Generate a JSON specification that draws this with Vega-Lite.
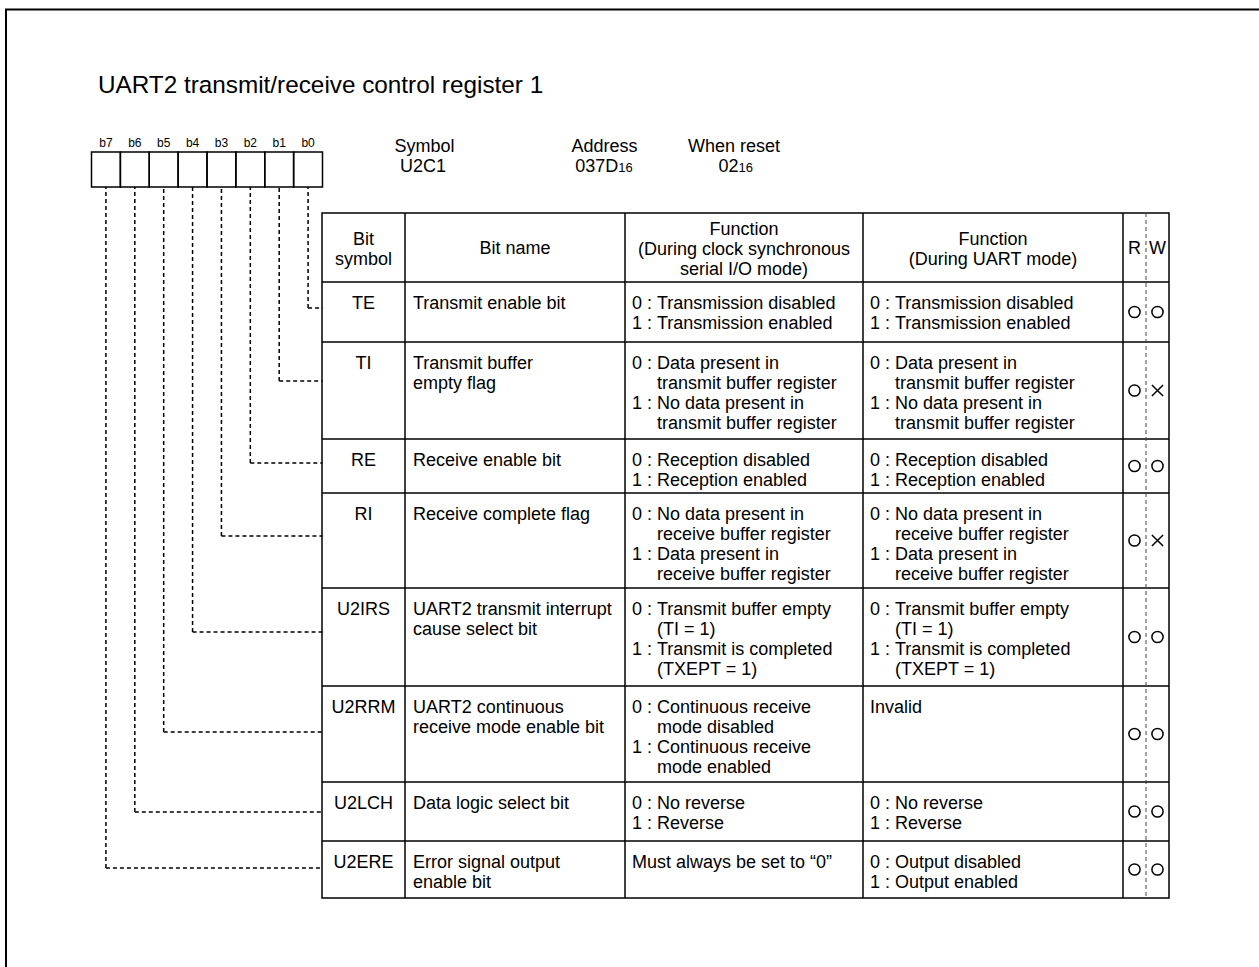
{
  "$schema": "https://vega.github.io/schema/vega-lite/v6.json",
  "width": 1259,
  "height": 967,
  "autosize": {"type": "none"},
  "padding": 0,
  "background": "white",
  "title": {
    "text": "UART2 transmit/receive control register 1",
    "anchor": "start",
    "orient": "top",
    "frame": "group",
    "offset": 0,
    "dx": 98,
    "dy": 117,
    "baseline": "alphabetic",
    "font": "Liberation Sans",
    "fontSize": 24.3,
    "fontWeight": "normal",
    "color": "black"
  },
  "config": {
    "view": {"stroke": null},
    "text": {"font": "Liberation Sans", "fontSize": 18, "color": "black", "lineBreak": "\n", "lineHeight": 20}
  },
  "datasets": {
    "bits": [
      {"bit": 0, "bitName": "b0", "sym": "TE", "name": "Transmit enable bit", "r": "○", "w": "○"},
      {"bit": 1, "bitName": "b1", "sym": "TI", "name": "Transmit buffer\nempty flag", "r": "○", "w": "×"},
      {"bit": 2, "bitName": "b2", "sym": "RE", "name": "Receive enable bit", "r": "○", "w": "○"},
      {"bit": 3, "bitName": "b3", "sym": "RI", "name": "Receive complete flag", "r": "○", "w": "×"},
      {"bit": 4, "bitName": "b4", "sym": "U2IRS", "name": "UART2 transmit interrupt\ncause select bit", "r": "○", "w": "○"},
      {"bit": 5, "bitName": "b5", "sym": "U2RRM", "name": "UART2 continuous\nreceive mode enable bit", "r": "○", "w": "○"},
      {"bit": 6, "bitName": "b6", "sym": "U2LCH", "name": "Data logic select bit", "r": "○", "w": "○"},
      {"bit": 7, "bitName": "b7", "sym": "U2ERE", "name": "Error signal output\nenable bit", "r": "○", "w": "○"}
    ],
    "cells": [
      {"bit": 0, "col": 2, "key": "0 :\n1 :", "body": "Transmission disabled\nTransmission enabled", "n": 2},
      {"bit": 0, "col": 3, "key": "0 :\n1 :", "body": "Transmission disabled\nTransmission enabled", "n": 2},
      {"bit": 1, "col": 2, "key": "0 :\n1 :", "body": "Data present in\ntransmit buffer register\nNo data present in\ntransmit buffer register", "n": 4},
      {"bit": 1, "col": 3, "key": "0 :\n1 :", "body": "Data present in\ntransmit buffer register\nNo data present in\ntransmit buffer register", "n": 4},
      {"bit": 2, "col": 2, "key": "0 :\n1 :", "body": "Reception disabled\nReception enabled", "n": 2},
      {"bit": 2, "col": 3, "key": "0 :\n1 :", "body": "Reception disabled\nReception enabled", "n": 2},
      {"bit": 3, "col": 2, "key": "0 :\n1 :", "body": "No data present in\nreceive buffer register\nData present in\nreceive buffer register", "n": 4},
      {"bit": 3, "col": 3, "key": "0 :\n1 :", "body": "No data present in\nreceive buffer register\nData present in\nreceive buffer register", "n": 4},
      {"bit": 4, "col": 2, "key": "0 :\n1 :", "body": "Transmit buffer empty\n(TI = 1)\nTransmit is completed\n(TXEPT = 1)", "n": 4},
      {"bit": 4, "col": 3, "key": "0 :\n1 :", "body": "Transmit buffer empty\n(TI = 1)\nTransmit is completed\n(TXEPT = 1)", "n": 4},
      {"bit": 5, "col": 2, "key": "0 :\n1 :", "body": "Continuous receive\nmode disabled\nContinuous receive\nmode enabled", "n": 4},
      {"bit": 5, "col": 3, "key": "", "body": "Invalid", "n": 1},
      {"bit": 6, "col": 2, "key": "0 :\n1 :", "body": "No reverse\nReverse", "n": 2},
      {"bit": 6, "col": 3, "key": "0 :\n1 :", "body": "No reverse\nReverse", "n": 2},
      {"bit": 7, "col": 2, "key": "", "body": "Must always be set to “0”", "n": 1},
      {"bit": 7, "col": 3, "key": "0 :\n1 :", "body": "Output disabled\nOutput enabled", "n": 2}
    ],
    "cols": [
      {"col": 0, "head": "Bit\nsymbol", "n": 2},
      {"col": 1, "head": "Bit name", "n": 1},
      {"col": 2, "head": "Function\n(During clock synchronous\nserial I/O mode)", "n": 3},
      {"col": 3, "head": "Function\n(During UART mode)", "n": 2},
      {"col": 4, "head": "R", "n": 1},
      {"col": 5, "head": "W", "n": 1}
    ],
    "info": [
      {"k": 0, "label": "Symbol", "value": "U2C1", "sub": ""},
      {"k": 1, "label": "Address", "value": "037D", "sub": "16"},
      {"k": 2, "label": "When reset", "value": "02", "sub": "16"}
    ],
    "one": [{"item": "frame"}]
  },
  "layer": [
    {
      "data": {"name": "one"},
      "mark": {"type": "rect", "filled": false, "stroke": "black", "strokeWidth": 2},
      "encoding": {
        "x": {"datum": 0, "type": "quantitative", "scale": {"domain": [0, 1], "range": [6, 1400], "nice": false, "zero": false}, "axis": null},
        "x2": {"datum": 1},
        "y": {"datum": 0, "type": "quantitative", "scale": {"domain": [0, 1], "range": [9.5, 1100], "nice": false, "zero": false}, "axis": null},
        "y2": {"datum": 1}
      }
    },
    {
      "data": {"name": "bits"},
      "mark": {"type": "rule", "strokeDash": [4, 3], "strokeWidth": 1.5, "color": "black"},
      "encoding": {
        "x": {"field": "bit", "type": "quantitative", "scale": {"domain": [-0.5, 7.5], "range": [322.5, 91.5], "nice": false, "zero": false}, "axis": null},
        "y": {"field": "bit", "type": "quantitative", "scale": {"domain": [-3, -2, -1, 0, 1, 2, 3, 4, 5, 6, 7], "range": [143, 152, 187, 308, 381, 463, 536, 632, 732, 812, 868], "nice": false, "zero": false}, "axis": null},
        "y2": {"datum": -1}
      }
    },
    {
      "data": {"name": "bits"},
      "mark": {"type": "rule", "strokeDash": [4, 3], "strokeWidth": 1.5, "color": "black"},
      "encoding": {
        "x": {"field": "bit", "type": "quantitative", "scale": {"domain": [-0.5, 7.5], "range": [322.5, 91.5], "nice": false, "zero": false}, "axis": null},
        "x2": {"datum": -0.5},
        "y": {"field": "bit", "type": "quantitative", "scale": {"domain": [-3, -2, -1, 0, 1, 2, 3, 4, 5, 6, 7], "range": [143, 152, 187, 308, 381, 463, 536, 632, 732, 812, 868], "nice": false, "zero": false}, "axis": null}
      }
    },
    {
      "data": {"name": "bits"},
      "mark": {"type": "point", "shape": "M-0.825,-1L0.825,-1L0.825,1L-0.825,1Z", "size": 1225, "filled": false, "stroke": "black", "strokeWidth": 1.5, "opacity": 1},
      "encoding": {
        "x": {"field": "bit", "type": "quantitative", "scale": {"domain": [-0.5, 7.5], "range": [322.5, 91.5], "nice": false, "zero": false}, "axis": null},
        "y": {"datum": -1.5, "type": "quantitative", "scale": {"domain": [-3, -2, -1, 0, 1, 2, 3, 4, 5, 6, 7], "range": [143, 152, 187, 308, 381, 463, 536, 632, 732, 812, 868], "nice": false, "zero": false}, "axis": null}
      }
    },
    {
      "data": {"name": "bits"},
      "mark": {"type": "text", "fontSize": 12, "align": "center", "baseline": "middle"},
      "encoding": {
        "x": {"field": "bit", "type": "quantitative", "scale": {"domain": [-0.5, 7.5], "range": [322.5, 91.5], "nice": false, "zero": false}, "axis": null},
        "y": {"datum": -3, "type": "quantitative", "scale": {"domain": [-3, -2, -1, 0, 1, 2, 3, 4, 5, 6, 7], "range": [143, 152, 187, 308, 381, 463, 536, 632, 732, 812, 868], "nice": false, "zero": false}, "axis": null},
        "text": {"field": "bitName"}
      }
    },
    {
      "data": {"name": "info"},
      "mark": {"type": "text", "align": "center", "baseline": "alphabetic"},
      "encoding": {
        "x": {"field": "k", "type": "quantitative", "scale": {"domain": [0, 1, 2], "range": [424.5, 604.5, 734], "nice": false, "zero": false}, "axis": null},
        "y": {"datum": 0, "type": "quantitative", "scale": {"domain": [0, 1], "range": [152, 172], "nice": false, "zero": false}, "axis": null},
        "text": {"field": "label"}
      }
    },
    {
      "data": {"name": "info"},
      "mark": {"type": "text", "align": "right", "baseline": "alphabetic"},
      "encoding": {
        "x": {"field": "k", "type": "quantitative", "scale": {"domain": [0, 1, 2], "range": [446, 618.3, 738.5], "nice": false, "zero": false}, "axis": null},
        "y": {"datum": 1, "type": "quantitative", "scale": {"domain": [0, 1], "range": [152, 172], "nice": false, "zero": false}, "axis": null},
        "text": {"field": "value"}
      }
    },
    {
      "data": {"name": "info"},
      "mark": {"type": "text", "align": "left", "baseline": "alphabetic", "fontSize": 13},
      "encoding": {
        "x": {"field": "k", "type": "quantitative", "scale": {"domain": [0, 1, 2], "range": [446, 618.3, 738.5], "nice": false, "zero": false}, "axis": null},
        "y": {"datum": 1, "type": "quantitative", "scale": {"domain": [0, 1], "range": [152, 172], "nice": false, "zero": false}, "axis": null},
        "text": {"field": "sub"}
      }
    },
    {
      "data": {"name": "one"},
      "mark": {"type": "rect", "filled": false, "stroke": "black", "strokeWidth": 1.5},
      "encoding": {
        "x": {"datum": 0, "type": "quantitative", "scale": {"domain": [0, 1, 2, 3, 4, 5, 6], "range": [322, 405, 625, 863, 1123, 1146, 1169], "nice": false, "zero": false}, "axis": null},
        "x2": {"datum": 6},
        "y": {"datum": -1, "type": "quantitative", "scale": {"domain": [-1, 0, 1, 2, 3, 4, 5, 6, 7, 8], "range": [213, 282, 342, 439, 493, 588, 686, 782, 841, 898], "nice": false, "zero": false}, "axis": null},
        "y2": {"datum": 8}
      }
    },
    {
      "data": {"name": "bits"},
      "mark": {"type": "rule", "stroke": "black", "strokeWidth": 1.5},
      "encoding": {
        "x": {"datum": 0, "type": "quantitative", "scale": {"domain": [0, 1, 2, 3, 4, 5, 6], "range": [322, 405, 625, 863, 1123, 1146, 1169], "nice": false, "zero": false}, "axis": null},
        "x2": {"datum": 6},
        "y": {"field": "bit", "type": "quantitative", "scale": {"domain": [-1, 0, 1, 2, 3, 4, 5, 6, 7, 8], "range": [213, 282, 342, 439, 493, 588, 686, 782, 841, 898], "nice": false, "zero": false}, "axis": null}
      }
    },
    {
      "data": {"name": "cols"},
      "transform": [{"filter": "datum.col >= 1 && datum.col <= 4"}],
      "mark": {"type": "rule", "stroke": "black", "strokeWidth": 1.5},
      "encoding": {
        "x": {"field": "col", "type": "quantitative", "scale": {"domain": [0, 1, 2, 3, 4, 5, 6], "range": [322, 405, 625, 863, 1123, 1146, 1169], "nice": false, "zero": false}, "axis": null},
        "y": {"datum": -1, "type": "quantitative", "scale": {"domain": [-1, 0, 1, 2, 3, 4, 5, 6, 7, 8], "range": [213, 282, 342, 439, 493, 588, 686, 782, 841, 898], "nice": false, "zero": false}, "axis": null},
        "y2": {"datum": 8}
      }
    },
    {
      "data": {"name": "cols"},
      "transform": [{"filter": "datum.col == 5"}],
      "mark": {"type": "rule", "stroke": "#444444", "strokeWidth": 1, "strokeDash": [4, 3]},
      "encoding": {
        "x": {"field": "col", "type": "quantitative", "scale": {"domain": [0, 1, 2, 3, 4, 5, 6], "range": [322, 405, 625, 863, 1123, 1146, 1169], "nice": false, "zero": false}, "axis": null},
        "y": {"datum": -1, "type": "quantitative", "scale": {"domain": [-1, 0, 1, 2, 3, 4, 5, 6, 7, 8], "range": [213, 282, 342, 439, 493, 588, 686, 782, 841, 898], "nice": false, "zero": false}, "axis": null},
        "y2": {"datum": 8}
      }
    },
    {
      "data": {"name": "cols"},
      "mark": {"type": "text", "align": "center", "baseline": "middle"},
      "encoding": {
        "x": {"field": "col", "type": "quantitative", "scale": {"domain": [0, 1, 2, 3, 4, 5], "range": [363.5, 515, 744, 993, 1134.5, 1157.5], "nice": false, "zero": false}, "axis": null},
        "y": {"field": "n", "type": "quantitative", "scale": {"domain": [1, 2, 3], "range": [249, 239.5, 229.5], "nice": false, "zero": false}, "axis": null},
        "text": {"field": "head"}
      }
    },
    {
      "data": {"name": "bits"},
      "mark": {"type": "text", "align": "center", "baseline": "top", "yOffset": 12.5},
      "encoding": {
        "x": {"datum": 0, "type": "quantitative", "scale": {"domain": [0, 1, 2, 3, 4, 5], "range": [363.5, 515, 744, 993, 1134.5, 1157.5], "nice": false, "zero": false}, "axis": null},
        "y": {"field": "bit", "type": "quantitative", "scale": {"domain": [-1, 0, 1, 2, 3, 4, 5, 6, 7, 8], "range": [213, 282, 342, 439, 493, 588, 686, 782, 841, 898], "nice": false, "zero": false}, "axis": null},
        "text": {"field": "sym"}
      }
    },
    {
      "data": {"name": "bits"},
      "mark": {"type": "text", "align": "left", "baseline": "top", "yOffset": 12.5, "dx": 8},
      "encoding": {
        "x": {"datum": 1, "type": "quantitative", "scale": {"domain": [0, 1, 2, 3, 4, 5, 6], "range": [322, 405, 625, 863, 1123, 1146, 1169], "nice": false, "zero": false}, "axis": null},
        "y": {"field": "bit", "type": "quantitative", "scale": {"domain": [-1, 0, 1, 2, 3, 4, 5, 6, 7, 8], "range": [213, 282, 342, 439, 493, 588, 686, 782, 841, 898], "nice": false, "zero": false}, "axis": null},
        "text": {"field": "name"}
      }
    },
    {
      "data": {"name": "cells"},
      "transform": [{"filter": "datum.key != ''"}],
      "mark": {"type": "text", "align": "left", "baseline": "top", "yOffset": 12.5, "dx": 32},
      "encoding": {
        "x": {"field": "col", "type": "quantitative", "scale": {"domain": [0, 1, 2, 3, 4, 5, 6], "range": [322, 405, 625, 863, 1123, 1146, 1169], "nice": false, "zero": false}, "axis": null},
        "y": {"field": "bit", "type": "quantitative", "scale": {"domain": [-1, 0, 1, 2, 3, 4, 5, 6, 7, 8], "range": [213, 282, 342, 439, 493, 588, 686, 782, 841, 898], "nice": false, "zero": false}, "axis": null},
        "text": {"field": "body"}
      }
    },
    {
      "data": {"name": "cells"},
      "transform": [{"filter": "datum.key == ''"}],
      "mark": {"type": "text", "align": "left", "baseline": "top", "yOffset": 12.5, "dx": 7},
      "encoding": {
        "x": {"field": "col", "type": "quantitative", "scale": {"domain": [0, 1, 2, 3, 4, 5, 6], "range": [322, 405, 625, 863, 1123, 1146, 1169], "nice": false, "zero": false}, "axis": null},
        "y": {"field": "bit", "type": "quantitative", "scale": {"domain": [-1, 0, 1, 2, 3, 4, 5, 6, 7, 8], "range": [213, 282, 342, 439, 493, 588, 686, 782, 841, 898], "nice": false, "zero": false}, "axis": null},
        "text": {"field": "body"}
      }
    },
    {
      "data": {"name": "cells"},
      "transform": [{"filter": "datum.key != '' && datum.n == 2"}],
      "mark": {"type": "text", "align": "left", "baseline": "top", "yOffset": 12.5, "dx": 7, "lineHeight": 20},
      "encoding": {
        "x": {"field": "col", "type": "quantitative", "scale": {"domain": [0, 1, 2, 3, 4, 5, 6], "range": [322, 405, 625, 863, 1123, 1146, 1169], "nice": false, "zero": false}, "axis": null},
        "y": {"field": "bit", "type": "quantitative", "scale": {"domain": [-1, 0, 1, 2, 3, 4, 5, 6, 7, 8], "range": [213, 282, 342, 439, 493, 588, 686, 782, 841, 898], "nice": false, "zero": false}, "axis": null},
        "text": {"field": "key"}
      }
    },
    {
      "data": {"name": "cells"},
      "transform": [{"filter": "datum.key != '' && datum.n == 4"}],
      "mark": {"type": "text", "align": "left", "baseline": "top", "yOffset": 12.5, "dx": 7, "lineHeight": 40},
      "encoding": {
        "x": {"field": "col", "type": "quantitative", "scale": {"domain": [0, 1, 2, 3, 4, 5, 6], "range": [322, 405, 625, 863, 1123, 1146, 1169], "nice": false, "zero": false}, "axis": null},
        "y": {"field": "bit", "type": "quantitative", "scale": {"domain": [-1, 0, 1, 2, 3, 4, 5, 6, 7, 8], "range": [213, 282, 342, 439, 493, 588, 686, 782, 841, 898], "nice": false, "zero": false}, "axis": null},
        "text": {"field": "key"}
      }
    },
    {
      "data": {"name": "bits"},
      "mark": {"type": "point", "filled": false, "stroke": "black", "strokeWidth": 1.5, "size": 125, "opacity": 1},
      "encoding": {
        "x": {"datum": 4, "type": "quantitative", "scale": {"domain": [0, 1, 2, 3, 4, 5], "range": [363.5, 515, 744, 993, 1134.5, 1157.5], "nice": false, "zero": false}, "axis": null},
        "y": {"field": "bit", "type": "quantitative", "scale": {"domain": [0, 1, 2, 3, 4, 5, 6, 7], "range": [312, 390.5, 466, 540.5, 637, 734, 811.5, 869.5], "nice": false, "zero": false}, "axis": null},
        "shape": {"field": "r", "type": "nominal", "scale": {"domain": ["○", "×"], "range": ["circle", "M-1,-1L1,1M-1,1L1,-1"]}, "legend": null}
      }
    },
    {
      "data": {"name": "bits"},
      "mark": {"type": "point", "filled": false, "stroke": "black", "strokeWidth": 1.5, "size": 125, "opacity": 1},
      "encoding": {
        "x": {"datum": 5, "type": "quantitative", "scale": {"domain": [0, 1, 2, 3, 4, 5], "range": [363.5, 515, 744, 993, 1134.5, 1157.5], "nice": false, "zero": false}, "axis": null},
        "y": {"field": "bit", "type": "quantitative", "scale": {"domain": [0, 1, 2, 3, 4, 5, 6, 7], "range": [312, 390.5, 466, 540.5, 637, 734, 811.5, 869.5], "nice": false, "zero": false}, "axis": null},
        "shape": {"field": "w", "type": "nominal", "scale": {"domain": ["○", "×"], "range": ["circle", "M-1,-1L1,1M-1,1L1,-1"]}, "legend": null}
      }
    }
  ],
  "resolve": {"scale": {"x": "independent", "y": "independent", "shape": "independent"}}
}
